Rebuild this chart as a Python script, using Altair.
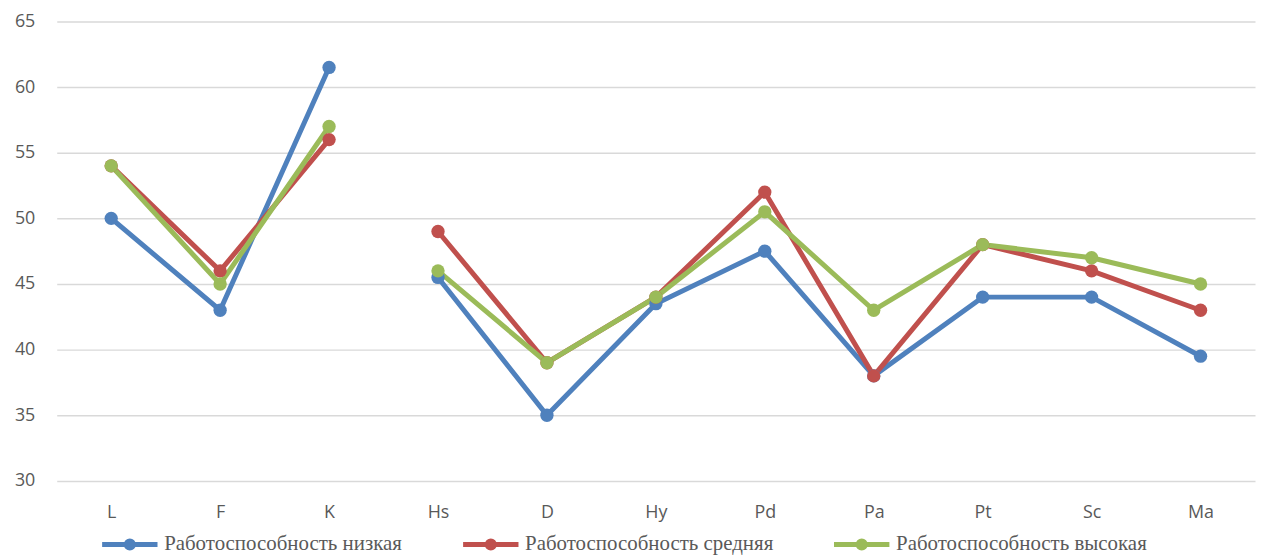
import altair as alt
import pandas as pd

categories = ["L", "F", "K", "Hs", "D", "Hy", "Pd", "Pa", "Pt", "Sc", "Ma"]
segments = [1, 1, 1, 2, 2, 2, 2, 2, 2, 2, 2]
series_names = ["Работоспособность низкая", "Работоспособность средняя", "Работоспособность высокая"]
low = [50, 43, 61.5, 45.5, 35, 43.5, 47.5, 38, 44, 44, 39.5]
mid = [54, 46, 56, 49, 39, 44, 52, 38, 48, 46, 43]
high = [54, 45, 57, 46, 39, 44, 50.5, 43, 48, 47, 45]
colors = ["#4F81BD", "#C0504D", "#9BBB59"]
y_ticks = [30, 35, 40, 45, 50, 55, 60, 65]

rows = []
for si, (name, vals) in enumerate(zip(series_names, [low, mid, high])):
    for i, (c, v, s) in enumerate(zip(categories, vals, segments)):
        rows.append({"cat": c, "value": v, "series": name, "seg": f"{si}-{s}", "idx": i, "sidx": si})
df = pd.DataFrame(rows)

legend_path = ("M-1,0 L1,0 "
               "M0.13,0 A0.13,0.13 0 1 1 -0.13,0 A0.13,0.13 0 1 1 0.13,0 Z")

x_enc = alt.X("cat:N", sort=categories, title=None,
              scale=alt.Scale(type="point", padding=0.5),
              axis=alt.Axis(labelAngle=0, ticks=False, domain=False, grid=False,
                            labelFont="Open Sans", labelFontSize=18, labelColor="#595959",
                            labelPadding=23))
y_enc = alt.Y("value:Q", title=None,
              scale=alt.Scale(domain=[30, 65], nice=False, zero=False),
              axis=alt.Axis(values=y_ticks, ticks=False, domain=False,
                            gridColor="#D9D9D9", gridWidth=1.5,
                            labelFont="Open Sans", labelFontSize=18, labelColor="#595959",
                            labelPadding=22))
color_enc = alt.Color("series:N", sort=series_names,
                      scale=alt.Scale(domain=series_names, range=colors),
                      legend=alt.Legend(title=None, orient="none", direction="horizontal",
                                        legendX=43, legendY=495,
                                        symbolType=legend_path, symbolSize=3100,
                                        symbolStrokeWidth=5, symbolOpacity=1,
                                        labelFont="Liberation Serif", labelFontSize=21,
                                        labelColor="#595959", labelOffset=4,
                                        columnPadding=50, padding=0, labelLimit=400))

lines = alt.Chart(df).mark_line(strokeWidth=5).encode(
    x=x_enc, y=y_enc, color=color_enc, detail="seg:N", order="idx:Q"
)
points = alt.Chart(df).mark_circle(size=180, opacity=1).encode(
    x=x_enc, y=y_enc,
    color=alt.Color("series:N", sort=series_names,
                    scale=alt.Scale(domain=series_names, range=colors), legend=None),
    order="sidx:Q"
)

chart = alt.layer(lines, points).properties(
    width=1205, height=462,
    autosize=alt.AutoSizeParams(type="none"),
    padding={"left": 49, "top": 12, "right": 2, "bottom": 76},
    background="white"
).configure_view(stroke=None)

chart.save("out.html", embed_options={"renderer": "svg", "actions": False})
